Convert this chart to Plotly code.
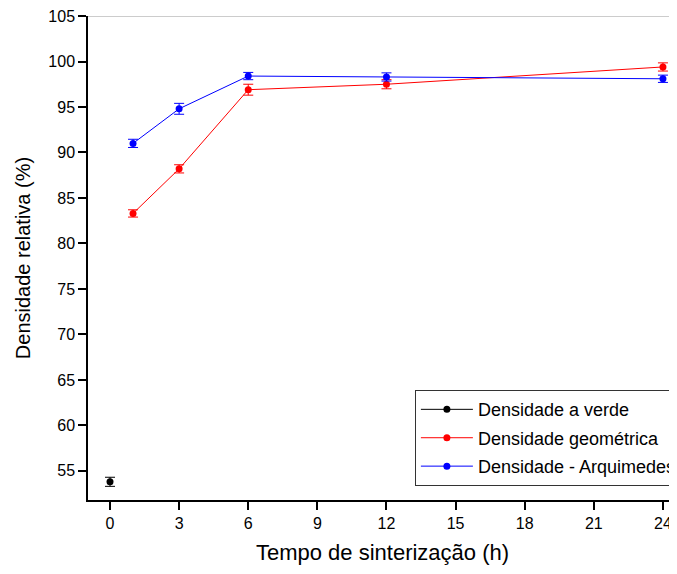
import plotly.graph_objects as go

# Data
x_verde = [0]
y_verde = [53.8]
e_verde = [0.5]

x_geo = [1, 3, 6, 12, 24]
y_geo = [83.3, 88.2, 96.9, 97.5, 99.4]
e_geo = [0.4, 0.45, 0.6, 0.5, 0.45]

x_arq = [1, 3, 6, 12, 24]
y_arq = [91.0, 94.8, 98.4, 98.3, 98.1]
e_arq = [0.45, 0.6, 0.4, 0.45, 0.4]

x_ticks = [0, 3, 6, 9, 12, 15, 18, 21, 24]
y_ticks = [55, 60, 65, 70, 75, 80, 85, 90, 95, 100, 105]

FONT = "Liberation Sans, Arial, sans-serif"

fig = go.Figure()

def add_series(x, y, e, color, name):
    fig.add_trace(go.Scatter(
        x=x, y=y, name=name, mode="lines+markers", legendgroup=name,
        line=dict(color=color, width=1),
        marker=dict(color=color, size=7),
        error_y=dict(type="data", array=e, visible=True, color=color, thickness=1, width=5),
    ))

add_series(x_verde, y_verde, e_verde, "black", "Densidade a verde")
add_series(x_geo, y_geo, e_geo, "red", "Densidade geométrica")
add_series(x_arq, y_arq, e_arq, "blue", "Densidade - Arquimedes")

fig.add_shape(type="line", xref="paper", yref="y", x0=0, x1=1, y0=105, y1=105,
              line=dict(color="#999999", width=1))

fig.update_layout(
    width=669, height=566,
    margin=dict(l=80, r=0, t=8, b=74, autoexpand=False),
    paper_bgcolor="white", plot_bgcolor="white",
    font=dict(family=FONT, size=16, color="black"),
    showlegend=True,
    legend=dict(
        x=0.555, xanchor="left", y=0.227, yanchor="top",
        bgcolor="white", bordercolor="#333333", borderwidth=1,
        font=dict(family=FONT, size=18, color="black"),
        tracegroupgap=2, itemwidth=52,
    ),
    xaxis=dict(
        range=[-0.955, 24.61], tickvals=x_ticks, ticktext=[str(v) for v in x_ticks],
        automargin=False, ticklabeloverflow="allow",
        showgrid=False, zeroline=False, showline=True, linecolor="black", linewidth=1.5,
        ticks="outside", ticklen=8, tickwidth=1.5, tickcolor="black",
        title=dict(text="Tempo de sinterização (h)", font=dict(family=FONT, size=22), standoff=14),
    ),
    yaxis=dict(
        range=[51.8, 105.001], tickvals=y_ticks, ticktext=[str(v) for v in y_ticks],
        automargin=False, ticklabeloverflow="allow",
        showgrid=False, zeroline=False, showline=True, linecolor="black", linewidth=1.5,
        ticks="outside", ticklen=8, tickwidth=1.5, tickcolor="black",
        title=dict(text="Densidade relativa (%)", font=dict(family=FONT, size=20), standoff=12),
    ),
)

fig.write_html("out.html")
